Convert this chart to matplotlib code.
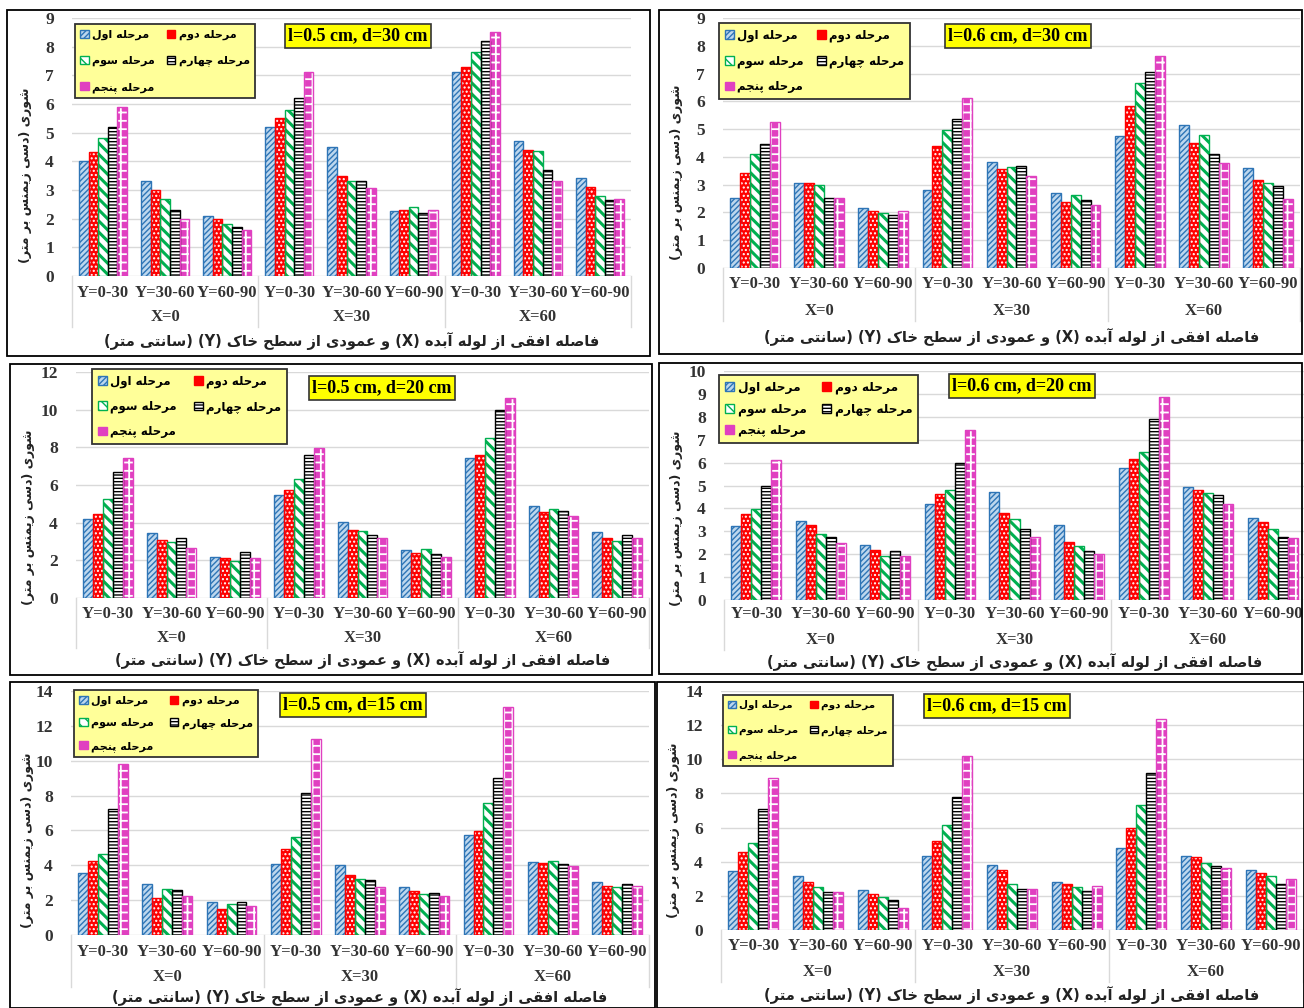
import matplotlib
matplotlib.use("Agg")
import matplotlib.pyplot as plt
from matplotlib.patches import Rectangle, Patch
import numpy as np

W, H = 1304, 1008

# values, one row per stage, 9 groups per row
y_labels = ["Y=0-30", "Y=30-60", "Y=60-90"] * 3
x_labels = ["X=0", "X=30", "X=60"]
stage_names = ["مرحله اول", "مرحله دوم", "مرحله سوم", "مرحله چهارم", "مرحله پنجم"]

l05_d30 = [
    [4.0, 3.32, 2.1, 5.2, 4.5, 2.28, 7.1, 4.72, 3.41],
    [4.31, 3.0, 2.0, 5.5, 3.5, 2.3, 7.3, 4.4, 3.1],
    [4.8, 2.7, 1.82, 5.8, 3.3, 2.4, 7.8, 4.36, 2.8],
    [5.2, 2.3, 1.7, 6.2, 3.3, 2.2, 8.2, 3.7, 2.66],
    [5.9, 2.0, 1.6, 7.1, 3.07, 2.3, 8.5, 3.3, 2.7],
]
l06_d30 = [
    [2.53, 3.07, 2.17, 2.8, 3.8, 2.69, 4.75, 5.13, 3.6],
    [3.43, 3.07, 2.05, 4.38, 3.58, 2.36, 5.82, 4.5, 3.18],
    [4.12, 2.98, 1.97, 4.96, 3.63, 2.64, 6.65, 4.78, 3.07],
    [4.48, 2.53, 1.91, 5.35, 3.66, 2.43, 7.07, 4.1, 2.94],
    [5.27, 2.53, 2.05, 6.11, 3.3, 2.28, 7.63, 3.79, 2.47],
]
l05_d20 = [
    [4.18, 3.46, 2.2, 5.45, 4.02, 2.56, 7.43, 4.9, 3.53],
    [4.48, 3.1, 2.1, 5.73, 3.63, 2.38, 7.6, 4.57, 3.21],
    [5.24, 2.95, 1.96, 6.32, 3.58, 2.61, 8.49, 4.73, 3.05],
    [6.7, 3.21, 2.42, 7.59, 3.37, 2.33, 10.0, 4.64, 3.37],
    [7.43, 2.63, 2.1, 7.98, 3.18, 2.19, 10.62, 4.38, 3.16],
]
l06_d20 = [
    [3.24, 3.46, 2.38, 4.2, 4.72, 3.26, 5.75, 4.93, 3.58],
    [3.74, 3.27, 2.19, 4.64, 3.81, 2.53, 6.16, 4.82, 3.39],
    [3.96, 2.89, 1.91, 4.82, 3.53, 2.35, 6.48, 4.67, 3.09],
    [5.0, 2.74, 2.13, 5.97, 3.08, 2.16, 7.9, 4.6, 2.77],
    [6.1, 2.47, 1.93, 7.43, 2.77, 2.0, 8.88, 4.18, 2.7],
]
l05_d15 = [
    [3.57, 2.94, 1.87, 4.1, 3.99, 2.77, 5.72, 4.18, 3.03],
    [4.27, 2.14, 1.47, 4.92, 3.45, 2.5, 5.97, 4.12, 2.84],
    [4.67, 2.63, 1.77, 5.65, 3.22, 2.37, 7.57, 4.22, 2.75],
    [7.21, 2.59, 1.89, 8.14, 3.17, 2.4, 8.98, 4.08, 2.92],
    [9.84, 2.25, 1.68, 11.25, 2.75, 2.25, 13.1, 3.95, 2.82],
]
l06_d15 = [
    [3.46, 3.18, 2.36, 4.32, 3.79, 2.81, 4.8, 4.34, 3.52],
    [4.59, 2.81, 2.13, 5.2, 3.52, 2.68, 5.98, 4.3, 3.32],
    [5.12, 2.54, 1.93, 6.15, 2.7, 2.52, 7.3, 3.93, 3.14],
    [7.07, 2.21, 1.74, 7.79, 2.42, 2.29, 9.2, 3.77, 2.71],
    [8.9, 2.23, 1.27, 10.21, 2.42, 2.58, 12.34, 3.65, 2.99],
]

y_title = "شوری (دسی زیمنس بر متر)"
x_title = "فاصله افقی از لوله آبده (X) و عمودی از سطح خاک (Y) (سانتی متر)"

# --- tiny persian shaper (presentation forms + reversing) ---
FORMS = {
    'ا': ('\uFE8D', '\uFE8E', None, None),
    'آ': ('\uFE81', '\uFE82', None, None),
    'ب': ('\uFE8F', '\uFE90', '\uFE91', '\uFE92'),
    'پ': ('\uFB56', '\uFB57', '\uFB58', '\uFB59'),
    'ت': ('\uFE95', '\uFE96', '\uFE97', '\uFE98'),
    'ج': ('\uFE9D', '\uFE9E', '\uFE9F', '\uFEA0'),
    'چ': ('\uFB7A', '\uFB7B', '\uFB7C', '\uFB7D'),
    'ح': ('\uFEA1', '\uFEA2', '\uFEA3', '\uFEA4'),
    'خ': ('\uFEA5', '\uFEA6', '\uFEA7', '\uFEA8'),
    'د': ('\uFEA9', '\uFEAA', None, None),
    'ر': ('\uFEAD', '\uFEAE', None, None),
    'ز': ('\uFEAF', '\uFEB0', None, None),
    'س': ('\uFEB1', '\uFEB2', '\uFEB3', '\uFEB4'),
    'ش': ('\uFEB5', '\uFEB6', '\uFEB7', '\uFEB8'),
    'ص': ('\uFEB9', '\uFEBA', '\uFEBB', '\uFEBC'),
    'ط': ('\uFEC1', '\uFEC2', '\uFEC3', '\uFEC4'),
    'ع': ('\uFEC9', '\uFECA', '\uFECB', '\uFECC'),
    'ف': ('\uFED1', '\uFED2', '\uFED3', '\uFED4'),
    'ق': ('\uFED5', '\uFED6', '\uFED7', '\uFED8'),
    'ک': ('\uFB8E', '\uFB8F', '\uFB90', '\uFB91'),
    'ل': ('\uFEDD', '\uFEDE', '\uFEDF', '\uFEE0'),
    'م': ('\uFEE1', '\uFEE2', '\uFEE3', '\uFEE4'),
    'ن': ('\uFEE5', '\uFEE6', '\uFEE7', '\uFEE8'),
    'ه': ('\uFEE9', '\uFEEA', '\uFEEB', '\uFEEC'),
    'و': ('\uFEED', '\uFEEE', None, None),
    'ی': ('\uFBFC', '\uFBFD', '\uFBFE', '\uFBFF'),
}


def fa(s):
    out = []
    for i, ch in enumerate(s):
        if ch not in FORMS:
            out.append(ch)
            continue
        prev = s[i - 1] if i > 0 else ''
        nxt = s[i + 1] if i + 1 < len(s) else ''
        f = FORMS[ch]
        jp = prev in FORMS and FORMS[prev][2] is not None
        jn = nxt in FORMS and f[2] is not None
        if jp and jn:
            out.append(f[3])
        elif jp:
            out.append(f[1])
        elif jn:
            out.append(f[2])
        else:
            out.append(f[0])
    vis = ''.join(reversed(out))
    return vis.translate(str.maketrans('()', ')('))


FA_FONT = ['DejaVu Sans']
SERIF = ['Liberation Serif', 'DejaVu Serif']

# bar looks: (face, hatch colour, hatch, outline, hatch width)
looks = [
    ('#bdd7ee', '#2e75b6', '//////', '#2e75b6', 1.0),
    ('#ff0000', '#ffffff', '....', '#ff0000', 1.0),
    ('#ffffff', '#00b050', '\\\\\\', '#00b050', 2.2),
    ('#ffffff', '#000000', '-----', '#000000', 1.0),
    ('#e040c0', '#ffffff', '++', '#e040c0', 1.3),
]

# panel layout in pixels
panels = [
    dict(data=l05_d30, title="l=0.5 cm, d=30 cm", box=(7, 10, 650, 356), ax=(72, 18, 631, 276),
         ymax=9, step=1, rows=(293, 317, 341), leg=(75, 24, 255, 98), tc=(358, 36), yl=(26, 175)),
    dict(data=l06_d30, title="l=0.6 cm, d=30 cm", box=(659, 10, 1302, 354), ax=(723, 18, 1300, 268),
         ymax=9, step=1, rows=(284, 311, 337), leg=(719, 23, 910, 99), tc=(1018, 36), yl=(677, 172)),
    dict(data=l05_d20, title="l=0.5 cm, d=20 cm", box=(10, 364, 652, 675), ax=(76, 372, 649, 598),
         ymax=12, step=2, rows=(614, 638, 660), leg=(92, 369, 287, 444), tc=(382, 388), yl=(29, 517)),
    dict(data=l06_d20, title="l=0.6 cm, d=20 cm", box=(659, 363, 1302, 674), ax=(724, 371, 1305, 600),
         ymax=10, step=1, rows=(614, 640, 662), leg=(719, 375, 918, 443), tc=(1022, 386), yl=(677, 518)),
    dict(data=l05_d15, title="l=0.5 cm, d=15 cm", box=(10, 682, 655, 1008), ax=(71, 691, 649, 935),
         ymax=14, step=2, rows=(952, 977, 997), leg=(74, 690, 258, 757), tc=(353, 705), yl=(28, 840)),
    dict(data=l06_d15, title="l=0.6 cm, d=15 cm", box=(657, 682, 1304, 1008), ax=(721, 691, 1303, 930),
         ymax=14, step=2, rows=(946, 972, 995), leg=(723, 695, 893, 766), tc=(997, 706), yl=(674, 830)),
]

fig = plt.figure(figsize=(W / 100, H / 100), dpi=100)
fig.patch.set_facecolor('white')
renderer = fig.canvas.get_renderer()

w = 0.155
xs = np.arange(9)


def make_legend(handles, lx0, ly0, fs, ls, cs):
    return fig.legend(handles=handles, ncol=2, loc='upper left',
                      bbox_to_anchor=((lx0 + 1) / W, 1 - (ly0 + 1) / H), bbox_transform=fig.transFigure,
                      frameon=False, borderaxespad=0,
                      handlelength=0.75, handleheight=0.75, handletextpad=0.3, columnspacing=cs,
                      labelspacing=ls, borderpad=0.4,
                      prop={'family': FA_FONT, 'weight': 'bold', 'size': fs})


for p in panels:
    bx = p['box']
    fig.patches.append(Rectangle((bx[0] / W, 1 - bx[3] / H), (bx[2] - bx[0]) / W, (bx[3] - bx[1]) / H,
                                 transform=fig.transFigure, fill=False, edgecolor='black', linewidth=1.3))

    l, t, r, b = p['ax']
    ax = fig.add_axes([l / W, 1 - b / H, (r - l) / W, (b - t) / H])
    hpx = b - t

    for j, vals in enumerate(p['data']):
        face, hcol, hatch, edge, hw = looks[j]
        pos = xs + (j - 2) * w
        with plt.rc_context({'hatch.linewidth': hw}):
            ax.bar(pos, vals, w, color=face, edgecolor=hcol, hatch=hatch, linewidth=0, zorder=2)
        ax.bar(pos, vals, w, fill=False, edgecolor=edge, linewidth=1.0, zorder=3)

    ax.set_xlim(-0.5, 8.5)
    ax.set_ylim(0, p['ymax'])
    ax.set_yticks(np.arange(0, p['ymax'] + 0.01, p['step']))
    ax.yaxis.grid(True, color='#d9d9d9', linewidth=1.0, zorder=0)
    ax.set_axisbelow(True)
    for s in ax.spines.values():
        s.set_visible(False)
    ax.tick_params(axis='y', length=0, pad=13, labelsize=12.5)
    ax.tick_params(axis='x', length=0)
    ax.set_xticks([])
    for lab in ax.get_yticklabels():
        lab.set_fontfamily(SERIF)
        lab.set_fontweight('bold')
        lab.set_color('#333333')

    # two level category axis
    r1 = -(p['rows'][0] - b) / hpx
    r2 = -(p['rows'][1] - b) / hpx
    rend = -(p['rows'][1] + 10 - b) / hpx
    tr = ax.get_xaxis_transform()
    for i, lab in enumerate(y_labels):
        ax.text(i, r1, lab, transform=tr, ha='center', va='center', fontsize=12,
                family=SERIF, fontweight='bold', color='#333333')
    for k, lab in enumerate(x_labels):
        ax.text(3 * k + 1, r2, lab, transform=tr, ha='center', va='center', fontsize=12,
                family=SERIF, fontweight='bold', color='#333333')
    for bnd in [-0.5, 2.5, 5.5, 8.5]:
        ax.plot([bnd, bnd], [0, rend], transform=tr, color='#d9d9d9', linewidth=1.0, clip_on=False)

    fig.text((l + r) / 2 / W, 1 - p['rows'][2] / H, fa(x_title), ha='center', va='center',
             fontsize=10.5, family=FA_FONT, fontweight='bold', color='#222222')
    fig.text(p['yl'][0] / W, 1 - p['yl'][1] / H, fa(y_title), ha='center', va='center', rotation=90,
             fontsize=9, family=FA_FONT, fontweight='bold', color='#222222')

    fig.text(p['tc'][0] / W, 1 - p['tc'][1] / H, p['title'], ha='center', va='center', fontsize=13,
             family=SERIF, fontweight='bold',
             bbox=dict(boxstyle='square,pad=0.2', facecolor='#ffff00', edgecolor='#333333', linewidth=1.2))

    # legend: yellow box drawn in pixels, entries fitted inside it
    lx0, ly0, lx1, ly1 = p['leg']
    fig.patches.append(Rectangle((lx0 / W, 1 - ly1 / H), (lx1 - lx0) / W, (ly1 - ly0) / H,
                                 transform=fig.transFigure, facecolor='#ffff99', edgecolor='#333333',
                                 linewidth=1.3, zorder=5))
    handles = []
    for j in [0, 2, 4, 1, 3]:
        face, hcol, hatch, edge, hw = looks[j]
        handles.append(Patch(facecolor=face, edgecolor=edge, hatch=hatch, linewidth=1.0,
                             label=fa(stage_names[j])))

    fs = 9.5
    while True:
        leg = make_legend(handles, lx0, ly0, fs, 0.5, 1.0)
        ext = leg.get_window_extent(renderer)
        if ext.width <= (lx1 - lx0) - 2 or fs <= 7:
            break
        leg.remove()
        fs -= 0.25
    # stretch the columns and rows to fill the box
    fpx = fs * 100 / 72
    cs = 1.0 + ((lx1 - lx0) - 2 - ext.width) / fpx
    ls = 0.5 + max(0, ((ly1 - ly0) - 2 - ext.height) / 2) / fpx
    leg.remove()
    leg = make_legend(handles, lx0, ly0, fs, ls, max(cs, 0.5))
    leg.set_zorder(6)

fig.savefig('out.png', dpi=100)
